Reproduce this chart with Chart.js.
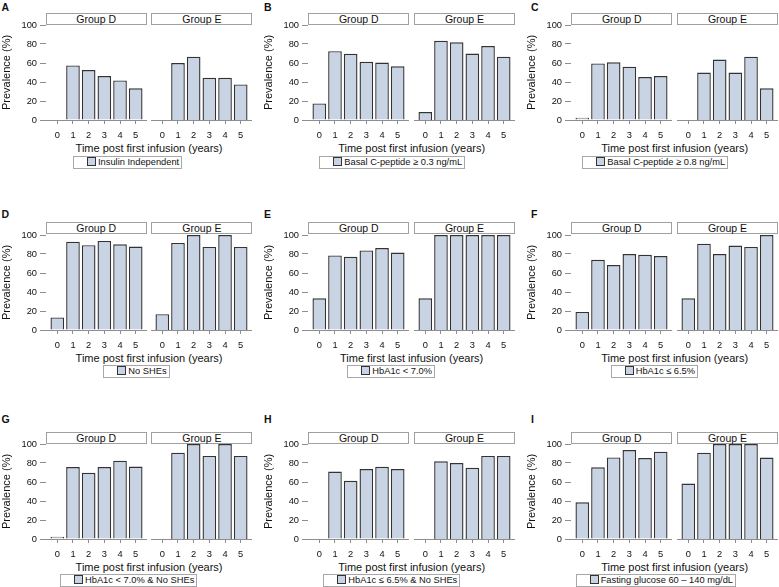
<!DOCTYPE html>
<html>
<head>
<meta charset="utf-8">
<script src="https://cdn.jsdelivr.net/npm/chart.js@4.4.1/dist/chart.umd.min.js"></script>
<style>
  body { margin: 0; background: #fff; width: 779px; height: 587px; overflow: hidden; position: relative;
         font-family: "Liberation Sans", Arial, sans-serif; color: #111; }
  canvas { position: absolute; }
  .strip { position: absolute; box-sizing: border-box; border: 1px solid #a0a0a0; height: 12px;
           font-size: 10.5px; line-height: 10px; text-align: center; white-space: nowrap; }
  .letter { position: absolute; font-weight: bold; font-size: 10.5px; line-height: 10px; }
  .xtitle { position: absolute; font-size: 11px; line-height: 12px; text-align: center; white-space: nowrap; width: 260px; }
  .legend { position: absolute; box-sizing: border-box; border: 1px solid #a8a8a8; height: 12.8px;
            font-size: 9.3px; line-height: 10.8px; padding: 0 2px 0 13px; white-space: nowrap; }
  .legend i { display: inline-block; width: 7px; height: 7px; border: 1px solid #333; background: #c8d3e4;
              vertical-align: -1px; margin-right: 2px; }
</style>
</head>
<body>
<script>
// data
var years = [0, 1, 2, 3, 4, 5];
var groups = ["Group D", "Group E"];
var yTicks = [0, 20, 40, 60, 80, 100];

var insulinD = [0, 57.5, 52.6, 46.2, 41.7, 33.3];
var insulinE = [0, 60, 66.7, 44.4, 44.4, 37.5];
var cpep03D = [17.4, 72.4, 69.7, 61.3, 60.5, 56.5];
var cpep03E = [8.3, 83.3, 81.8, 70, 77.8, 66.7];
var cpep08D = [2.5, 59.6, 60.7, 56.1, 45.2, 46.3];
var cpep08E = [0, 50, 63.6, 50, 66.7, 33.3];
var noSheD = [13.2, 93, 89.3, 93.8, 90.2, 87.9];
var noSheE = [16.7, 91.7, 100, 87.5, 100, 87.5];
var hba70D = [33.3, 78.5, 77.1, 83.8, 86.2, 81.6];
var hba70E = [33.3, 100, 100, 100, 100, 100];
var hba65D = [19, 73.9, 68.3, 80, 79.2, 77.8];
var hba65E = [33.3, 90.9, 80, 88.9, 87.5, 100];
var hba70NoSheD = [2.5, 75.7, 69.7, 75.8, 82.4, 76.2];
var hba70NoSheE = [0, 90.9, 100, 87.5, 100, 87.5];
var hba65NoSheD = [0, 71, 61.3, 73.6, 76, 73.6];
var hba65NoSheE = [0, 81.8, 80, 75, 87.5, 87.5];
var glucoseD = [38.7, 75.4, 85.9, 93.7, 85.2, 91.9];
var glucoseE = [58.3, 90.9, 100, 100, 100, 85.7];

var panels = [
  { letter: "A", label: "Insulin Independent", xTitle: "Time post first infusion (years)", d: insulinD, e: insulinE },
  { letter: "B", label: "Basal C-peptide \u2265 0.3 ng/mL", xTitle: "Time post first infusion (years)", d: cpep03D, e: cpep03E },
  { letter: "C", label: "Basal C-peptide \u2265 0.8 ng/mL", xTitle: "Time post first infusion (years)", d: cpep08D, e: cpep08E },
  { letter: "D", label: "No SHEs", xTitle: "Time post first infusion (years)", d: noSheD, e: noSheE },
  { letter: "E", label: "HbA1c < 7.0%", xTitle: "Time first last infusion (years)", d: hba70D, e: hba70E },
  { letter: "F", label: "HbA1c \u2264 6.5%", xTitle: "Time post first infusion (years)", d: hba65D, e: hba65E },
  { letter: "G", label: "HbA1c < 7.0% & No SHEs", xTitle: "Time post first infusion (years)", d: hba70NoSheD, e: hba70NoSheE },
  { letter: "H", label: "HbA1c \u2264 6.5% & No SHEs", xTitle: "Time post first infusion (years)", d: hba65NoSheD, e: hba65NoSheE },
  { letter: "I", label: "Fasting glucose 60 \u2013 140 mg/dL", xTitle: "Time post first infusion (years)", d: glucoseD, e: glucoseE }
];

// layout
var colLeft = [45.7, 308.3, 571.3];     // left edge of Group D facet
var rowTop = [25.3, 235, 444.4];        // y of the 100 line
var letterLeft = [1.5, 264, 531];
var letterTop = [2, 208.7, 413.7];
var legendLeft = [73, 319.3, 582.3, 103.3, 347.3, 610.7, 60, 323.3, 575.7];
var legendTop = [155.8, 365.3, 574.3];
var facetW = 101, facetStep = 105.7, plotH = 95;

var FONT = "'Liberation Sans', Arial, sans-serif";
var barFill = "#c8d3e4";
var barEdge = "#333333";
var axisGray = "#8e8e8e";

function addDiv(cls, left, top, text, width) {
  var el = document.createElement("div");
  el.className = cls;
  el.style.left = left + "px";
  el.style.top = top + "px";
  if (width) el.style.width = width + "px";
  el.textContent = text;
  document.body.appendChild(el);
  return el;
}

function makeFacet(left, top, values, isFirst) {
  var axisW = isFirst ? 46 : 0;
  var w = facetW + axisW, h = 10 + plotH + 22;
  var cv = document.createElement("canvas");
  cv.width = w; cv.height = h;
  cv.style.left = (left - axisW) + "px";
  cv.style.top = (top - 10) + "px";
  document.body.appendChild(cv);

  new Chart(cv, {
    type: "bar",
    data: {
      datasets: [{
        data: values.map(function (v, i) { return { x: years[i], y: v }; }),
        backgroundColor: barFill,
        borderColor: barEdge,
        borderWidth: 1.4,
        barPercentage: 0.87,
        categoryPercentage: 1
      }]
    },
    options: {
      responsive: false,
      animation: false,
      devicePixelRatio: 1,
      layout: { padding: { top: 10, left: 0, right: 0, bottom: 0 } },
      plugins: { legend: { display: false }, tooltip: { enabled: false } },
      scales: {
        x: {
          type: "linear", min: -0.72, max: 5.72, offset: false,
          afterBuildTicks: function (s) { s.ticks = years.map(function (v) { return { value: v }; }); },
          afterFit: function (s) { s.height = 22; },
          grid: { offset: false, drawOnChartArea: false, drawTicks: true, tickLength: 4, color: axisGray },
          border: { display: true, color: axisGray, width: 1 },
          ticks: { color: "#111", font: { size: 9.3, family: FONT }, padding: 6, maxRotation: 0, autoSkip: false }
        },
        y: {
          display: isFirst, min: 0, max: 100,
          afterBuildTicks: function (s) { s.ticks = yTicks.map(function (v) { return { value: v }; }); },
          afterFit: function (s) { s.width = axisW; },
          grid: { drawOnChartArea: false, tickLength: 6, color: axisGray },
          border: { display: false },
          ticks: { color: "#111", font: { size: 9.3, family: FONT }, padding: 3 },
          title: { display: true, text: "Prevalence (%)", color: "#111", font: { size: 11, family: FONT }, padding: 0 }
        }
      }
    }
  });
}

panels.forEach(function (p, k) {
  var col = k % 3, row = Math.floor(k / 3);
  var L = colLeft[col], T = rowTop[row];

  addDiv("letter", letterLeft[col], letterTop[row], p.letter);

  [p.d, p.e].forEach(function (vals, g) {
    var fl = L + g * facetStep;
    addDiv("strip", fl, T - 12.6, groups[g], facetW);
    makeFacet(fl, T, vals, g === 0);
  });

  var center = L + (facetStep + facetW) / 2;
  addDiv("xtitle", center - 130, T + plotH + 22, p.xTitle);

  var lg = addDiv("legend", legendLeft[k], legendTop[row], "");
  var sw = document.createElement("i");
  lg.appendChild(sw);
  lg.appendChild(document.createTextNode(p.label));
});
</script>
</body>
</html>
